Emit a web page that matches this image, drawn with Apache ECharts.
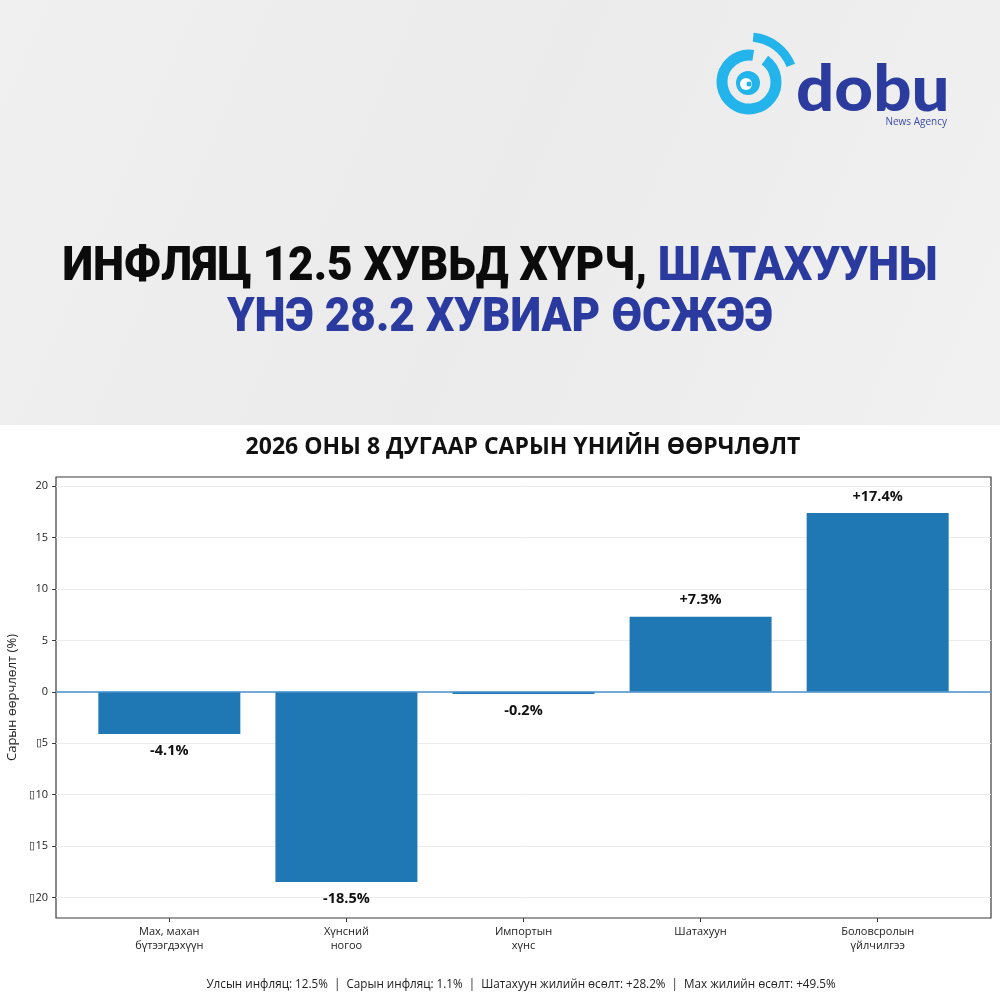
<!DOCTYPE html>
<html>
<head>
<meta charset="utf-8">
<script src="https://cdn.jsdelivr.net/npm/echarts@6/dist/echarts.min.js"></script>
<style>
html,body{margin:0;padding:0;background:#fff;}
#chart{width:1000px;height:1000px;}
</style>
</head>
<body>
<div id="chart"></div>
<script>
const categories = ['Мах, махан\nбүтээгдэхүүн', 'Хүнсний\nногоо', 'Импортын\nхүнс', 'Шатахуун', 'Боловсролын\nүйлчилгээ'];
const values = [-4.1, -18.5, -0.2, 7.3, 17.4];
const yTicks = [-20, -15, -10, -5, 0, 5, 10, 15, 20];
const xTicks = [0, 1, 2, 3, 4];
const chartTitle = '2026 ОНЫ 8 ДУГААР САРЫН ҮНИЙН ӨӨРЧЛӨЛТ';
const headlineA = 'ИНФЛЯЦ 12.5 ХУВЬД ХҮРЧ, ';
const headlineB = 'ШАТАХУУНЫ';
const headlineC = 'ҮНЭ 28.2 ХУВИАР ӨСЖЭЭ';
const footer = 'Улсын инфляц: 12.5%  |  Сарын инфляц: 1.1%  |  Шатахуун жилийн өсөлт: +28.2%  |  Мах жилийн өсөлт: +49.5%';
const yAxisName = 'Сарын өөрчлөлт (%)';

const fmtPct = v => (v > 0 ? '+' : '') + v.toFixed(1) + '%';
const fmtTick = v => v < 0 ? '\u25AF' + Math.abs(v) : String(v);

const chart = echarts.init(document.getElementById('chart'), null, {renderer: 'canvas'});
const FONT = '"Open Sans", "Noto Sans", sans-serif';
const HEAD = 'Roboto, sans-serif';

const barData = values.map((v, i) => ({
  value: [i, v],
  label: {position: v >= 0 ? 'top' : 'bottom'}
}));

chart.setOption({
  backgroundColor: '#ffffff',
  animation: false,
  grid: {
    left: 56, right: 9, top: 477, bottom: 82,
    show: true, borderColor: '#3a3a3a', borderWidth: 1.2, backgroundColor: '#fff',
    containLabel: false, outerBoundsMode: 'none'
  },
  xAxis: {
    type: 'value', min: -0.64, max: 4.64,
    axisLine: {show: false, onZero: false},
    splitLine: {show: false},
    axisTick: {show: true, customValues: xTicks, length: 4, lineStyle: {color: '#3a3a3a'}},
    axisLabel: {
      customValues: xTicks, formatter: v => categories[Math.round(v)],
      fontFamily: FONT, fontSize: 11, color: '#222', lineHeight: 14, margin: 7
    }
  },
  yAxis: {
    type: 'value', min: -22, max: 20.9,
    name: yAxisName, nameLocation: 'middle', nameGap: 35, nameRotate: 90,
    nameTextStyle: {fontFamily: FONT, fontSize: 13, color: '#222'},
    axisLine: {show: false, onZero: false},
    axisTick: {show: true, customValues: yTicks, length: 4, lineStyle: {color: '#3a3a3a'}},
    axisLabel: {customValues: yTicks, formatter: fmtTick, fontFamily: FONT, fontSize: 11, color: '#222', margin: 8},
    splitLine: {show: true, lineStyle: {color: '#ececec', width: 1}}
  },
  series: [{
    type: 'bar',
    data: barData,
    barWidth: 142,
    itemStyle: {color: '#1f77b4'},
    label: {
      show: true, distance: 9,
      formatter: p => fmtPct(p.value[1]),
      fontFamily: FONT, fontSize: 14.5, fontWeight: 'bold', color: '#111'
    },
    markLine: {
      silent: true, symbol: 'none', label: {show: false},
      lineStyle: {color: '#4a92cf', width: 1.6, type: 'solid'},
      data: [{yAxis: 0}],
      z: 5
    }
  }],
  graphic: [
    {type: 'rect', z: -10, shape: {x: 0, y: 0, width: 1000, height: 425},
     style: {fill: new echarts.graphic.LinearGradient(0, 0, 1, 1, [
       {offset: 0, color: '#f0f0f0'}, {offset: 0.5, color: '#ebebeb'}, {offset: 1, color: '#f1f1f1'}])}},
    // logo icon
    {type: 'arc', shape: {cx: 749, cy: 82, r: 27, startAngle: -Math.PI * 0.3, endAngle: Math.PI * 1.55, clockwise: true},
     style: {stroke: '#22b4ea', lineWidth: 11, fill: null}},
    {type: 'arc', shape: {cx: 749, cy: 82, r: 45, startAngle: -Math.PI * 0.47, endAngle: -Math.PI * 0.12, clockwise: true},
     style: {stroke: '#22b4ea', lineWidth: 9, fill: null}},
    {type: 'circle', shape: {cx: 748, cy: 83, r: 12}, style: {fill: '#22b4ea'}},
    {type: 'circle', shape: {cx: 746, cy: 84, r: 6}, style: {fill: '#ffffff'}},
    {type: 'circle', shape: {cx: 749, cy: 84, r: 2.5}, style: {fill: '#22b4ea'}},
    {type: 'text', x: 796, y: 90, scaleX: 1.05, style: {text: 'dobu', fontFamily: 'Lato, Roboto, sans-serif', fontWeight: 900, fontSize: 64,
      fill: '#2c3c9e', textAlign: 'left', textVerticalAlign: 'middle'}},
    {type: 'text', x: 947, y: 122, style: {text: 'News Agency', fontFamily: FONT, fontSize: 10, fill: '#3a4cae', textAlign: 'right', textVerticalAlign: 'middle'}},
    // headline
    {type: 'text', x: 500, y: 268, scaleX: 0.92, style: {
      text: '{a|' + headlineA + '}{b|' + headlineB + '}',
      rich: {
        a: {fontFamily: HEAD, fontWeight: 900, fontSize: 48, fill: '#0b0b0b'},
        b: {fontFamily: HEAD, fontWeight: 900, fontSize: 48, fill: '#2a3a9e'}
      },
      textAlign: 'center', textVerticalAlign: 'middle'}},
    {type: 'text', x: 500, y: 319, scaleX: 0.92, style: {text: headlineC, fontFamily: HEAD, fontWeight: 900, fontSize: 48,
      fill: '#2a3a9e', textAlign: 'center', textVerticalAlign: 'middle'}},
    // chart title
    {type: 'text', x: 523, y: 447, style: {text: chartTitle, fontFamily: FONT, fontWeight: 'bold', fontSize: 23, fill: '#111',
      textAlign: 'center', textVerticalAlign: 'middle'}},
    // footer
    {type: 'text', x: 521, y: 985, style: {text: footer, fontFamily: FONT, fontSize: 11.7, fill: '#222',
      textAlign: 'center', textVerticalAlign: 'middle'}}
  ]
});
</script>
</body>
</html>
